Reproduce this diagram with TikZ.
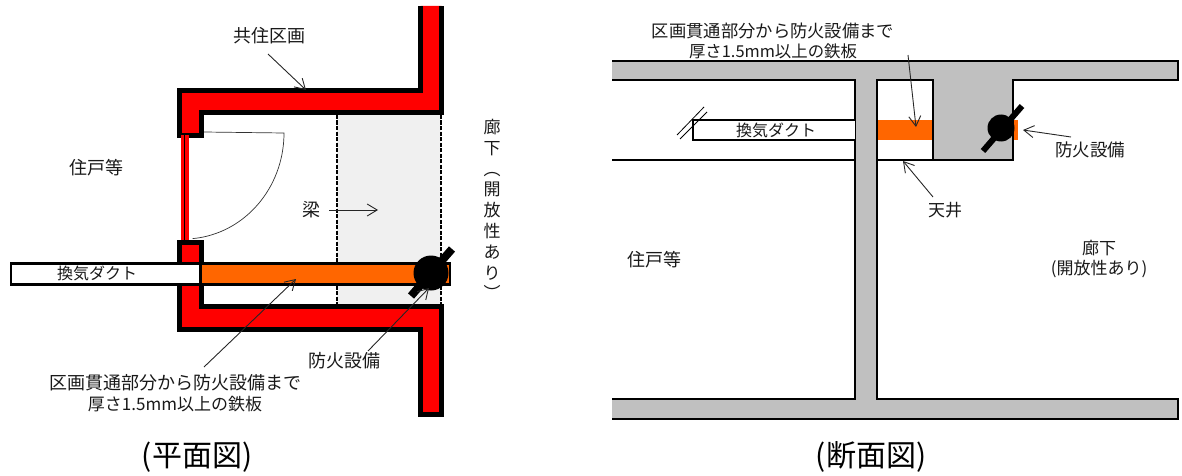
\documentclass[tikz,border=0pt]{standalone}
\usepackage{fontspec}
\setmainfont{Noto Sans CJK JP}
\usetikzlibrary{arrows.meta}
\definecolor{wallred}{RGB}{255,0,0}
\definecolor{steel}{RGB}{255,102,0}
\definecolor{slab}{RGB}{192,192,192}
\definecolor{beam}{RGB}{240,240,240}
\tikzset{
  wall/.style={fill=wallred,draw=black,line width=5pt,miter limit=10},
  duct/.style={fill=white,draw=black,line width=2.4pt},
  lead/.style={draw=black!85,line width=0.9pt,-{Straight Barb[length=10pt,width=12pt,line width=0.9pt]}},
  lab/.style={font=\fontsize{18pt}{21pt}\selectfont,inner sep=0pt,align=center,text=black!90},
  title/.style={font=\fontsize{30pt}{32pt}\selectfont,inner sep=0pt}
}
\begin{document}
\begin{tikzpicture}[x=1pt,y=-1pt]
\useasboundingbox (0,0) rectangle (1182,476);
%%% plan
\fill[beam] (337,115) rectangle (441,304);
\draw[line width=1.3pt,dash pattern=on 4pt off 1.5pt] (337,115) -- (337,304);
\draw[line width=1.3pt,dash pattern=on 4pt off 1.5pt] (441,115) -- (441,304);
\fill[wallred] (420.5,6) -- (420.5,90.5) -- (179.5,90.5) -- (179.5,135.5) -- (201.5,135.5) -- (201.5,112.5) -- (441.5,112.5) -- (441.5,6) -- cycle;
\draw[wall,fill=none] (420.5,6) -- (420.5,90.5) -- (179.5,90.5) -- (179.5,135.5) -- (201.5,135.5) -- (201.5,112.5) -- (441.5,112.5) -- (441.5,6);
\draw[wall] (179.5,242.5) -- (201.5,242.5) -- (201.5,306.5) -- (441.5,306.5) -- (441.5,414.5) -- (420.5,414.5) -- (420.5,329.5) -- (179.5,329.5) -- cycle;
% door
\fill[wallred] (181,135) rectangle (189,240);
\draw[line width=0.6pt] (184.5,135) -- (184.5,240);
\draw[line width=0.7pt,black!80] (204,132) -- (284,133) arc[start angle=0,end angle=85,x radius=100pt,y radius=-106pt];
% duct
\draw[duct] (11,263.5) rectangle (200.5,284.5);
\draw[duct,fill=steel] (200.5,263.5) rectangle (450,284.5);
\node[lab,font=\fontsize{16pt}{20pt}\selectfont] (dl) at (97,273) {換気ダクト};
% damper
\draw[line width=8pt] (411,296) -- (452,249);
\fill (431,273) circle[radius=17.5pt];
% labels
\node[lab] (kyo) at (269,36) {共住区画};
\node[lab] (jul) at (96,168) {住戸等};
\node[lab] (har) at (311,210) {梁};
\node[lab,font=\fontsize{17pt}{20.8pt}\selectfont] (rou) at (492,209.5) {廊\\下\\︵\\開\\放\\性\\あ\\り\\︶};
\node[lab] (tet) at (175,393) {区画貫通部分から防火設備まで\\{\fontsize{17pt}{21pt}\selectfont 厚さ1.5mm以上の鉄板}};
\node[lab] (bou) at (344,361) {防火設備};
\node[title] (t1) at (197,457) {(平面図)};
\coordinate (kyoS) at (268,54);
\coordinate (kyoT) at (306,90);
\coordinate (harS) at (329,210);
\coordinate (harT) at (378,210);
\coordinate (tetS) at (204,367);
\coordinate (tetT) at (296,279);
\coordinate (bouS) at (368,351);
\coordinate (bouT) at (429,288);
\draw[lead] (kyoS) -- (kyoT);
\draw[lead] (harS) -- (harT);
\draw[lead] (tetS) -- (tetT);
\draw[lead] (bouS) -- (bouT);
%%% section
\fill[slab] (612,61) rectangle (1178,80);
\fill[slab] (612,399) rectangle (1178,419);
\fill[slab] (855,61) rectangle (877,419);
\fill[slab] (877,80) rectangle (1013,160);
\draw[line width=2pt] (612,61) -- (1178,61) -- (1178,80) -- (1013,80) -- (1013,160) -- (877,160) -- (877,399) -- (1178,399) -- (1178,419) -- (612,419);
\draw[line width=2pt] (612,80) -- (855,80) -- (855,399) -- (612,399);
\draw[line width=1.5pt] (612,160) -- (855,160);
\draw[line width=2pt,fill=white] (877,80) rectangle (933,160);
\fill[steel] (878,120) rectangle (932,140);
\fill[steel] (1014,120) rectangle (1018,140);
\draw[line width=1.5pt,fill=white] (855,120) -- (693,120) -- (693,140) -- (855,140);
\draw[line width=0.8pt] (677,135) -- (704,107);
\draw[line width=0.8pt] (680,139) -- (707,112);
\node[lab,font=\fontsize{16pt}{20pt}\selectfont] (dr) at (776,130) {換気ダクト};
\draw[line width=6pt] (983,151) -- (1022,106);
\fill (1001,128) circle[radius=13.5pt];
\node[lab,font=\fontsize{17.3pt}{20pt}\selectfont] (ter) at (773,41) {区画貫通部分から防火設備まで\\{\fontsize{16.4pt}{20pt}\selectfont 厚さ1.5mm以上の鉄板}};
\node[lab,font=\fontsize{17pt}{20pt}\selectfont] (ten) at (945,210) {天井};
\node[lab,font=\fontsize{17.5pt}{20pt}\selectfont] (bor) at (1090,150) {防火設備};
\node[lab] (jur) at (654,260) {住戸等};
\node[lab,font=\fontsize{17pt}{20pt}\selectfont] (ror) at (1099,259) {廊下\\(開放性あり)};
\node[title] (t2) at (871,457) {(断面図)};
\coordinate (terS) at (908,55);
\coordinate (terT) at (916,127);
\coordinate (tenS) at (933,197);
\coordinate (tenT) at (903,161);
\coordinate (borS) at (1071,137);
\coordinate (borT) at (1023,130);
\draw[lead] (terS) -- (terT);
\draw[lead] (tenS) -- (tenT);
\draw[lead] (borS) -- (borT);
\end{tikzpicture}
\end{document}
